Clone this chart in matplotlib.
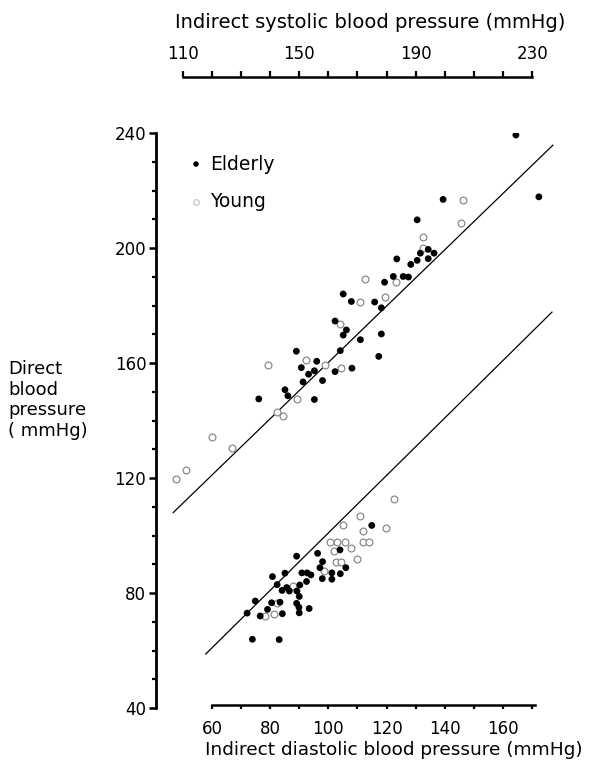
import matplotlib
matplotlib.use('Agg')
import matplotlib.pyplot as plt
import numpy as np
from matplotlib.ticker import FixedLocator

plt.rcParams['font.family'] = ['DejaVu Sans']

# ---- Upper cloud: direct vs indirect SYSTOLIC pressure (mmHg) ----
sys_elderly_x = [224.4, 232.3, 199.4, 190.5, 183.5, 188.3, 190.5, 191.6, 194.3, 196.3,
                 194.3, 179.3, 182.3, 185.7, 187.5, 165.1, 167.9, 175.9, 178.2, 162.3,
                 166.2, 165.1, 171.0, 178.2, 177.3, 164.1, 149.0, 156.0, 150.7, 153.2,
                 155.2, 162.3, 168.1, 158.0, 151.3, 145.1, 146.1, 155.2, 136.1]
sys_elderly_y = [239.3, 217.8, 216.9, 209.8, 196.2, 194.3, 195.7, 198.2, 199.5, 198.2,
                 196.3, 188.1, 190.1, 190.1, 189.9, 184.0, 181.4, 181.2, 179.2, 174.6,
                 171.5, 169.7, 168.1, 170.1, 162.3, 164.3, 164.1, 160.6, 158.4, 156.1,
                 157.3, 157.0, 158.2, 153.9, 153.4, 150.7, 148.6, 147.3, 147.5]
sys_young_x = [206.4, 205.5, 192.6, 192.6, 172.5, 183.4, 170.7, 179.4, 163.9, 152.4,
               158.8, 164.3, 149.1, 139.2, 142.3, 144.3, 120.0, 127.0, 111.1, 107.6]
sys_young_y = [216.6, 208.8, 203.9, 200.1, 189.2, 188.1, 181.3, 183.1, 173.7, 161.2,
               159.2, 158.1, 147.5, 159.4, 142.8, 141.4, 134.4, 130.4, 122.7, 119.8]

# ---- Lower cloud: direct vs indirect DIASTOLIC pressure (mmHg) ----
dia_elderly_x = [114.9, 104.0, 96.3, 89.1, 98.0, 97.1, 106.0, 101.2, 104.1, 97.9,
                 101.2, 90.9, 92.7, 94.0, 92.5, 85.1, 80.8, 82.4, 85.7, 84.1,
                 86.6, 90.2, 89.2, 90.0, 74.9, 80.5, 83.4, 79.1, 89.1, 89.9,
                 90.0, 93.4, 72.1, 76.6, 84.2, 73.9, 83.1]
dia_elderly_y = [103.5, 95.0, 93.8, 92.8, 90.9, 88.8, 88.8, 87.0, 86.7, 85.0,
                 84.8, 87.0, 87.0, 86.3, 84.0, 86.9, 85.7, 82.9, 81.9, 80.9,
                 80.7, 82.8, 80.7, 78.8, 77.2, 76.6, 76.8, 74.3, 76.4, 75.0,
                 73.1, 74.6, 73.0, 72.0, 72.8, 63.9, 63.8]
dia_young_x = [122.7, 110.9, 104.9, 111.8, 119.8, 100.7, 103.1, 105.8, 107.9, 101.8,
               112.0, 114.1, 102.6, 104.2, 109.9, 98.5, 87.9, 78.4, 81.3, 82.2]
dia_young_y = [112.6, 106.7, 103.7, 101.7, 102.5, 97.7, 97.7, 97.7, 95.8, 94.7,
               97.6, 97.6, 90.9, 90.9, 91.7, 87.7, 82.3, 72.0, 72.7, 76.5]

# ---- Fitted lines: slope, intercept, x extent ----
sys_fit_slope, sys_fit_icpt = 0.980, 3.4
sys_fit_range = [106.7, 237.1]
dia_fit_slope, dia_fit_icpt = 1.0, 0.9
dia_fit_range = [57.9, 176.8]

# ---- Tick labels ----
y_major = [40, 80, 120, 160, 200, 240]
dia_major = [60, 80, 100, 120, 140, 160]
sys_major = [110, 150, 190, 230]

W, H = 592, 763
fig = plt.figure(figsize=(W / 100, H / 100), dpi=100)
ax = fig.add_axes([156 / W, 55 / H, 405 / W, 575 / H])
ax.set_xlim(40.8, 179.9)
ax.set_ylim(40, 240)
axt = ax.twiny()
axt.set_xlim(100.8, 239.9)

for a in (ax, axt):
    a.patch.set_visible(False)
    for sp in a.spines.values():
        sp.set_visible(False)

# left axis
ax.spines['left'].set_visible(True)
ax.spines['left'].set_linewidth(2.0)
ax.spines['left'].set_bounds(40, 240)
ax.yaxis.set_major_locator(FixedLocator(y_major))
ax.yaxis.set_minor_locator(FixedLocator([v for v in range(40, 241, 10) if v not in y_major]))
ax.tick_params(axis='y', which='major', direction='out', length=5, width=1.8,
               labelsize=12, pad=2)
ax.tick_params(axis='y', which='minor', direction='out', length=3, width=1.6)

# bottom (diastolic) axis
ax.spines['bottom'].set_visible(True)
ax.spines['bottom'].set_linewidth(1.8)
ax.spines['bottom'].set_bounds(60, 171)
ax.spines['bottom'].set_position(('data', 41))
ax.xaxis.set_major_locator(FixedLocator(dia_major))
ax.xaxis.set_minor_locator(FixedLocator([70, 90, 110, 130, 150, 170]))
ax.tick_params(axis='x', which='both', direction='out', length=3, width=1.6,
               labelsize=12, pad=8)

# top (systolic) axis
axt.spines['top'].set_visible(True)
axt.spines['top'].set_linewidth(1.8)
axt.spines['top'].set_bounds(110, 230)
axt.spines['top'].set_position(('outward', 40.3))
axt.xaxis.set_major_locator(FixedLocator(sys_major))
axt.xaxis.set_minor_locator(FixedLocator([v for v in range(120, 230, 10) if v not in sys_major]))
axt.tick_params(axis='x', which='both', direction='out', length=4, width=1.6,
                labelsize=12, pad=6, top=True, labeltop=True, bottom=False,
                labelbottom=False)

# data points
dot = dict(s=24, c='black', edgecolors='none', zorder=3)
ring = dict(s=24, facecolors='white', edgecolors='#8a8a8a', linewidths=0.9, zorder=2)
axt.scatter(sys_young_x, sys_young_y, **ring)
axt.scatter(sys_elderly_x, sys_elderly_y, **dot)
ax.scatter(dia_young_x, dia_young_y, **ring)
ax.scatter(dia_elderly_x, dia_elderly_y, **dot)

# fitted lines
xs = np.array(sys_fit_range)
axt.plot(xs, sys_fit_slope * xs + sys_fit_icpt, color='black', lw=0.9, zorder=1)
xd = np.array(dia_fit_range)
ax.plot(xd, dia_fit_slope * xd + dia_fit_icpt, color='black', lw=0.9, zorder=1)

# legend (drawn by hand, as in the original)
ax.scatter([0.0988], [0.946], transform=ax.transAxes, s=16, c='black',
           edgecolors='none', clip_on=False)
ax.scatter([0.0988], [0.8805], transform=ax.transAxes, s=16, facecolors='white',
           edgecolors='#bdbdbd', linewidths=0.8, clip_on=False)
ax.text(0.133, 0.946, 'Elderly', transform=ax.transAxes, va='center', ha='left',
        fontsize=13.5)
ax.text(0.133, 0.8805, 'Young', transform=ax.transAxes, va='center', ha='left',
        fontsize=13.5)

# axis titles
fig.text(370 / W, 1 - 22 / H, 'Indirect systolic blood pressure (mmHg)',
         ha='center', va='center', fontsize=14)
fig.text(394 / W, 1 - 750 / H, 'Indirect diastolic blood pressure (mmHg)',
         ha='center', va='center', fontsize=13.3)
fig.text(8 / W, 1 - 400 / H, 'Direct\nblood\npressure\n( mmHg)',
         ha='left', va='center', fontsize=13, linespacing=1.2)

fig.savefig('out.png', dpi=100)
